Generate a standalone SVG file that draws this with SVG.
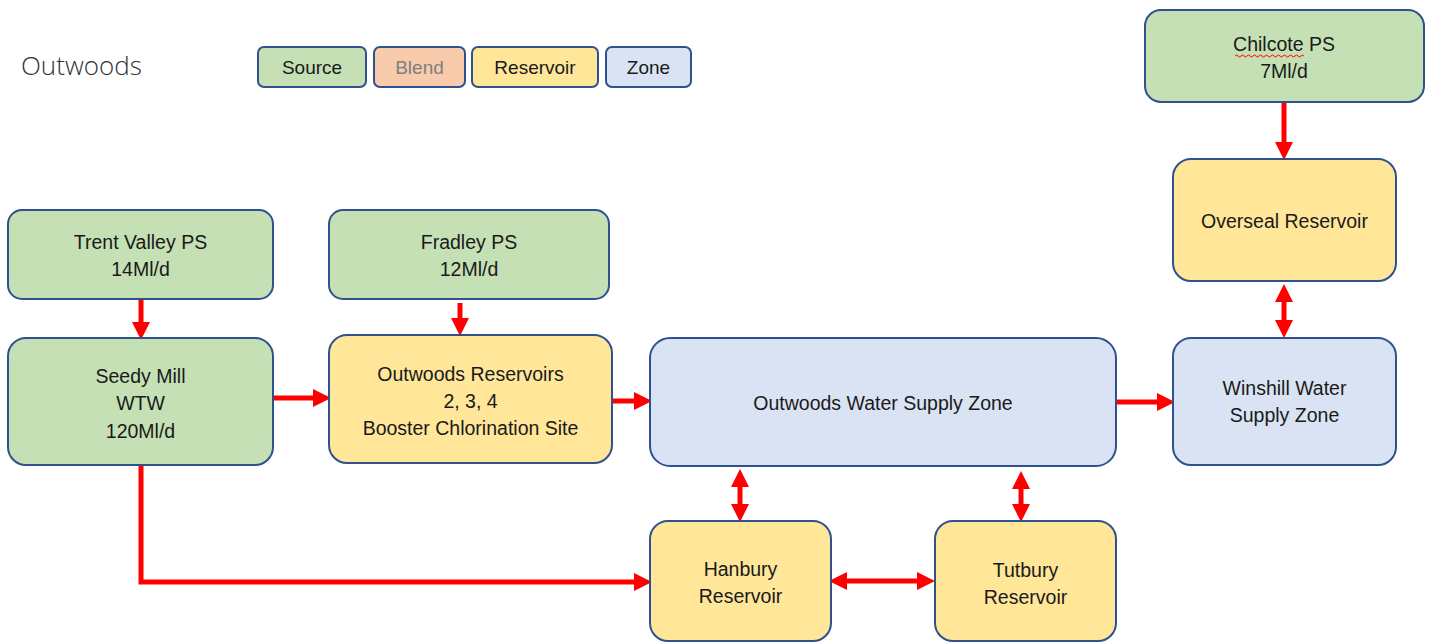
<svg xmlns="http://www.w3.org/2000/svg" width="1432" height="644" viewBox="0 0 1432 644">
  <style>
    .box { stroke: #2F528F; stroke-width: 2; }
    .source { fill: #C5E0B4; }
    .blend { fill: #F8CBAD; }
    .reservoir { fill: #FFE699; }
    .zone { fill: #DAE3F3; }
    text { font-family: "Liberation Sans", Arial, sans-serif; font-size: 19.5px; fill: #1a1a1a; text-anchor: middle; }
    .legend text { font-size: 19px; }
    .title { font-family: "Open Sans", "Liberation Sans", sans-serif; font-size: 26px; fill: #333; text-anchor: start; font-weight: 300; }
    .muted { fill: #7f7f7f; }
    .flow { stroke: #FF0000; stroke-width: 5; fill: none; }
    .one { marker-end: url(#head); }
    .two { marker-start: url(#head); marker-end: url(#head); }
  </style>
  <defs>
    <marker id="head" markerUnits="userSpaceOnUse" markerWidth="18" markerHeight="18" refX="6" refY="9" orient="auto-start-reverse" viewBox="0 0 18 18">
      <path d="M0,0 L18,9 L0,18 z" fill="#FF0000"/>
    </marker>
  </defs>

  <rect width="1432" height="644" fill="#ffffff"/>

  <text class="title" x="21" y="75">Outwoods</text>

  <!-- legend -->
  <g id="legend" class="legend">
    <g id="legend-source"><rect class="box source" x="258" y="47" width="108" height="40" rx="6"/><text x="312" y="74">Source</text></g>
    <g id="legend-blend"><rect class="box blend" x="374" y="47" width="91" height="40" rx="6"/><text class="muted" x="419.5" y="74">Blend</text></g>
    <g id="legend-reservoir"><rect class="box reservoir" x="472" y="47" width="126" height="40" rx="6"/><text x="535" y="74">Reservoir</text></g>
    <g id="legend-zone"><rect class="box zone" x="606" y="47" width="85" height="40" rx="6"/><text x="648.5" y="74">Zone</text></g>
  </g>

  <!-- connectors -->
  <g id="connectors">
    <line class="flow one" x1="141" y1="299" x2="141" y2="328"/>
    <line class="flow one" x1="460" y1="303" x2="460" y2="324"/>
    <line class="flow one" x1="273" y1="398" x2="319" y2="398"/>
    <line class="flow one" x1="612" y1="401" x2="640" y2="401"/>
    <line class="flow one" x1="1116" y1="402" x2="1163" y2="402"/>
    <line class="flow one" x1="1284" y1="102" x2="1284" y2="148"/>
    <line class="flow two" x1="1284" y1="296" x2="1284" y2="326"/>
    <line class="flow two" x1="740" y1="481" x2="740" y2="510"/>
    <line class="flow two" x1="1021" y1="483" x2="1021" y2="510"/>
    <line class="flow two" x1="841" y1="581" x2="923" y2="581"/>
    <polyline class="flow one" points="141,465 141,582 640,582"/>
  </g>

  <!-- nodes -->
  <g id="chilcote">
    <rect class="box source" x="1145" y="10" width="279" height="92" rx="16"/>
    <text x="1284" y="51">Chilcote PS</text>
    <text x="1284" y="78">7Ml/d</text>
    <path d="M1235,56 q1.5,-2 3,0 t3,0 t3,0 t3,0 t3,0 t3,0 t3,0 t3,0 t3,0 t3,0 t3,0 t3,0 t3,0 t3,0 t3,0 t3,0 t3,0 t3,0 t3,0 t3,0 t3,0 t3,0 t3,0" fill="none" stroke="#FF0000" stroke-width="1"/>
  </g>
  <g id="overseal">
    <rect class="box reservoir" x="1173" y="159" width="223" height="122" rx="18"/>
    <text x="1284.5" y="228">Overseal Reservoir</text>
  </g>
  <g id="winshill">
    <rect class="box zone" x="1173" y="338" width="223" height="127" rx="18"/>
    <text x="1284.5" y="395">Winshill Water</text>
    <text x="1284.5" y="422">Supply Zone</text>
  </g>
  <g id="trent-valley">
    <rect class="box source" x="8" y="210" width="265" height="89" rx="14"/>
    <text x="140.5" y="249">Trent Valley PS</text>
    <text x="140.5" y="276">14Ml/d</text>
  </g>
  <g id="fradley">
    <rect class="box source" x="329" y="210" width="280" height="89" rx="14"/>
    <text x="469" y="249">Fradley PS</text>
    <text x="469" y="276">12Ml/d</text>
  </g>
  <g id="seedy-mill">
    <rect class="box source" x="8" y="338" width="265" height="127" rx="18"/>
    <text x="140.5" y="383">Seedy Mill</text>
    <text x="140.5" y="410">WTW</text>
    <text x="140.5" y="438">120Ml/d</text>
  </g>
  <g id="outwoods-reservoirs">
    <rect class="box reservoir" x="329" y="335" width="283" height="128" rx="18"/>
    <text x="470.5" y="381">Outwoods Reservoirs</text>
    <text x="470.5" y="408">2, 3, 4</text>
    <text x="470.5" y="435">Booster Chlorination Site</text>
  </g>
  <g id="outwoods-zone">
    <rect class="box zone" x="650" y="338" width="466" height="128" rx="20"/>
    <text x="883" y="410">Outwoods Water Supply Zone</text>
  </g>
  <g id="hanbury">
    <rect class="box reservoir" x="650" y="521" width="181" height="120" rx="18"/>
    <text x="740.5" y="576">Hanbury</text>
    <text x="740.5" y="603">Reservoir</text>
  </g>
  <g id="tutbury">
    <rect class="box reservoir" x="935" y="521" width="181" height="120" rx="18"/>
    <text x="1025.5" y="577">Tutbury</text>
    <text x="1025.5" y="604">Reservoir</text>
  </g>
</svg>
